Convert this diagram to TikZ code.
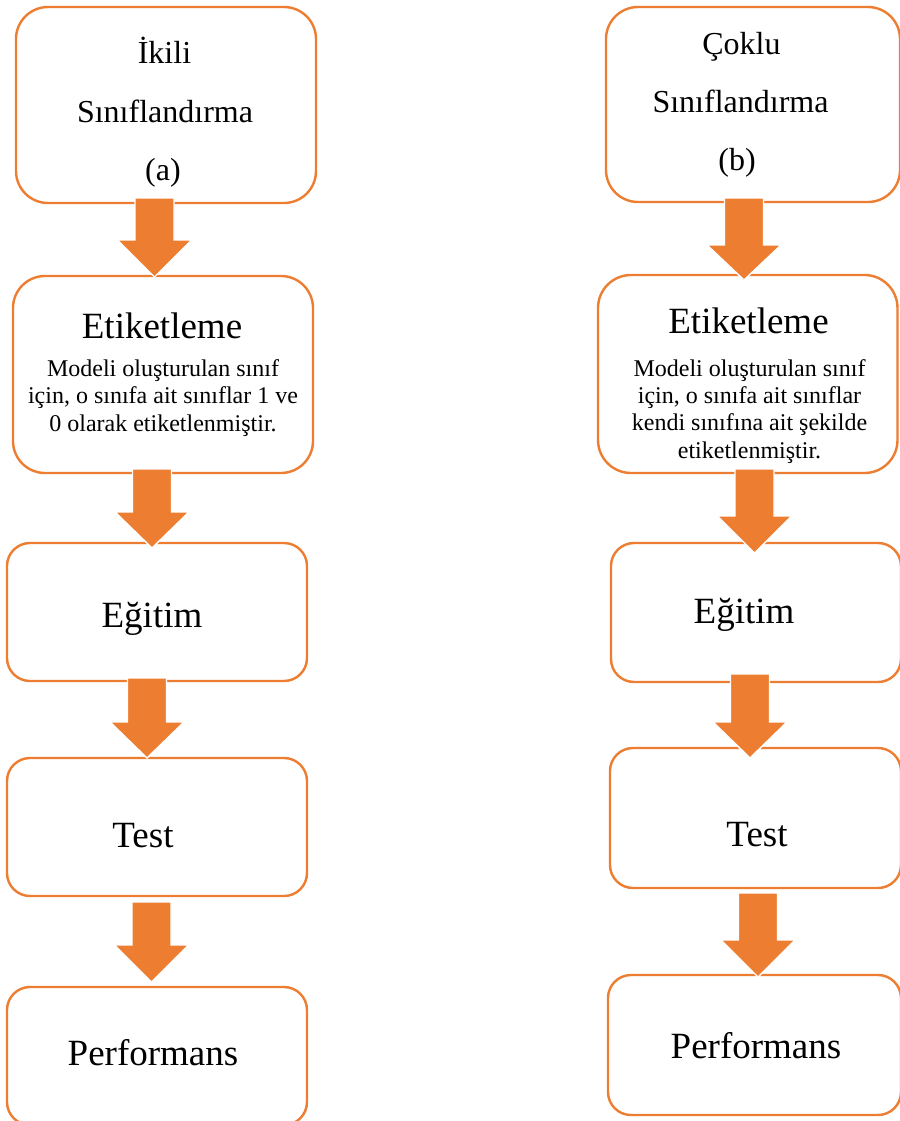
\documentclass[tikz,border=0pt]{standalone}
\usepackage{fontspec}
\setmainfont{Liberation Serif}
\definecolor{accent}{HTML}{ED7D31}
\newcommand\flowarrow[4]{% centre x, shaft top, head base, tip
  \filldraw[arrowfill] (#1-19.5,#2) -- (#1+19.5,#2) -- (#1+19.5,#3) -- (#1+37,#3)
    -- (#1,#4) -- (#1-37,#3) -- (#1-19.5,#3) -- cycle;}
\begin{document}
\begin{tikzpicture}[x=1pt,y=-1pt,
  box/.style={draw=accent, line width=2.4pt, fill=white, rectangle, inner sep=0pt},
  arrowfill/.style={fill=accent, draw=white, line width=1.4pt, line join=miter},
  titletext/.style={anchor=base, inner sep=0pt, font=\fontsize{32}{38}\selectfont},
  bigtext/.style={anchor=base, inner sep=0pt, font=\fontsize{37}{44}\selectfont},
  smalltext/.style={anchor=base, inner sep=0pt, font=\fontsize{24}{28}\selectfont}]
\useasboundingbox (0,0) rectangle (899,1121);

% ---------- left column: binary classification ----------
\node[box, minimum width=300pt, minimum height=196pt, rounded corners=32pt] (L1) at (166,105) {};
\node[box, minimum width=300pt, minimum height=197pt, rounded corners=32pt] (L2) at (163,374.5) {};
\node[box, minimum width=300pt, minimum height=138pt, rounded corners=23pt] (L3) at (157,612) {};
\node[box, minimum width=300pt, minimum height=138pt, rounded corners=23pt] (L4) at (157,827) {};
\node[box, minimum width=300pt, minimum height=138pt, rounded corners=23pt] (L5) at (157,1056) {};

\node[titletext] (l1a) at (164.5,64) {İkili};
\node[titletext] (l1b) at (165,122) {Sınıflandırma};
\node[titletext] (l1c) at (163,180) {(a)};
\node[bigtext] (l2a) at (162,338) {Etiketleme};
\node[smalltext] (l2b) at (163,376) {Modeli oluşturulan sınıf};
\node[smalltext] (l2c) at (163,403.5) {için, o sınıfa ait sınıflar 1 ve};
\node[smalltext] (l2d) at (163,431) {0 olarak etiketlenmiştir.};
\node[bigtext] (l3) at (152,627) {Eğitim};
\node[bigtext] (l4) at (143,847) {Test};
\node[bigtext] (l5) at (153,1065) {Performans};

\flowarrow{154.5}{198}{240}{277}
\flowarrow{152}{469}{512}{548}
\flowarrow{147}{678}{722}{758}
\flowarrow{151.5}{902}{945}{982}

% ---------- right column: multi-class classification ----------
\node[box, minimum width=294pt, minimum height=195pt, rounded corners=32pt] (R1) at (753,104.5) {};
\node[box, minimum width=299.5pt, minimum height=198pt, rounded corners=33pt] (R2) at (747.75,374) {};
\node[box, minimum width=290pt, minimum height=139pt, rounded corners=23pt] (R3) at (756,612.5) {};
\node[box, minimum width=291pt, minimum height=140pt, rounded corners=23pt] (R4) at (755.5,818) {};
\node[box, minimum width=293pt, minimum height=140pt, rounded corners=23pt] (R5) at (754.5,1045) {};

\node[titletext] (r1a) at (741.5,55) {Çoklu};
\node[titletext] (r1b) at (740.5,113) {Sınıflandırma};
\node[titletext] (r1c) at (737,170) {(b)};
\node[bigtext] (r2a) at (748.5,333) {Etiketleme};
\node[smalltext] (r2b) at (749.5,376) {Modeli oluşturulan sınıf};
\node[smalltext] (r2c) at (749.5,403.3) {için, o sınıfa ait sınıflar};
\node[smalltext] (r2d) at (749.5,430.6) {kendi sınıfına ait şekilde};
\node[smalltext] (r2e) at (749.5,458) {etiketlenmiştir.};
\node[bigtext] (r3) at (744,623) {Eğitim};
\node[bigtext] (r4) at (757,846) {Test};
\node[bigtext] (r5) at (756,1058) {Performans};

\flowarrow{744}{198}{245}{280}
\flowarrow{754.5}{469}{516}{553}
\flowarrow{750}{674}{722}{758}
\flowarrow{758}{893}{940}{977}
\end{tikzpicture}
\end{document}
